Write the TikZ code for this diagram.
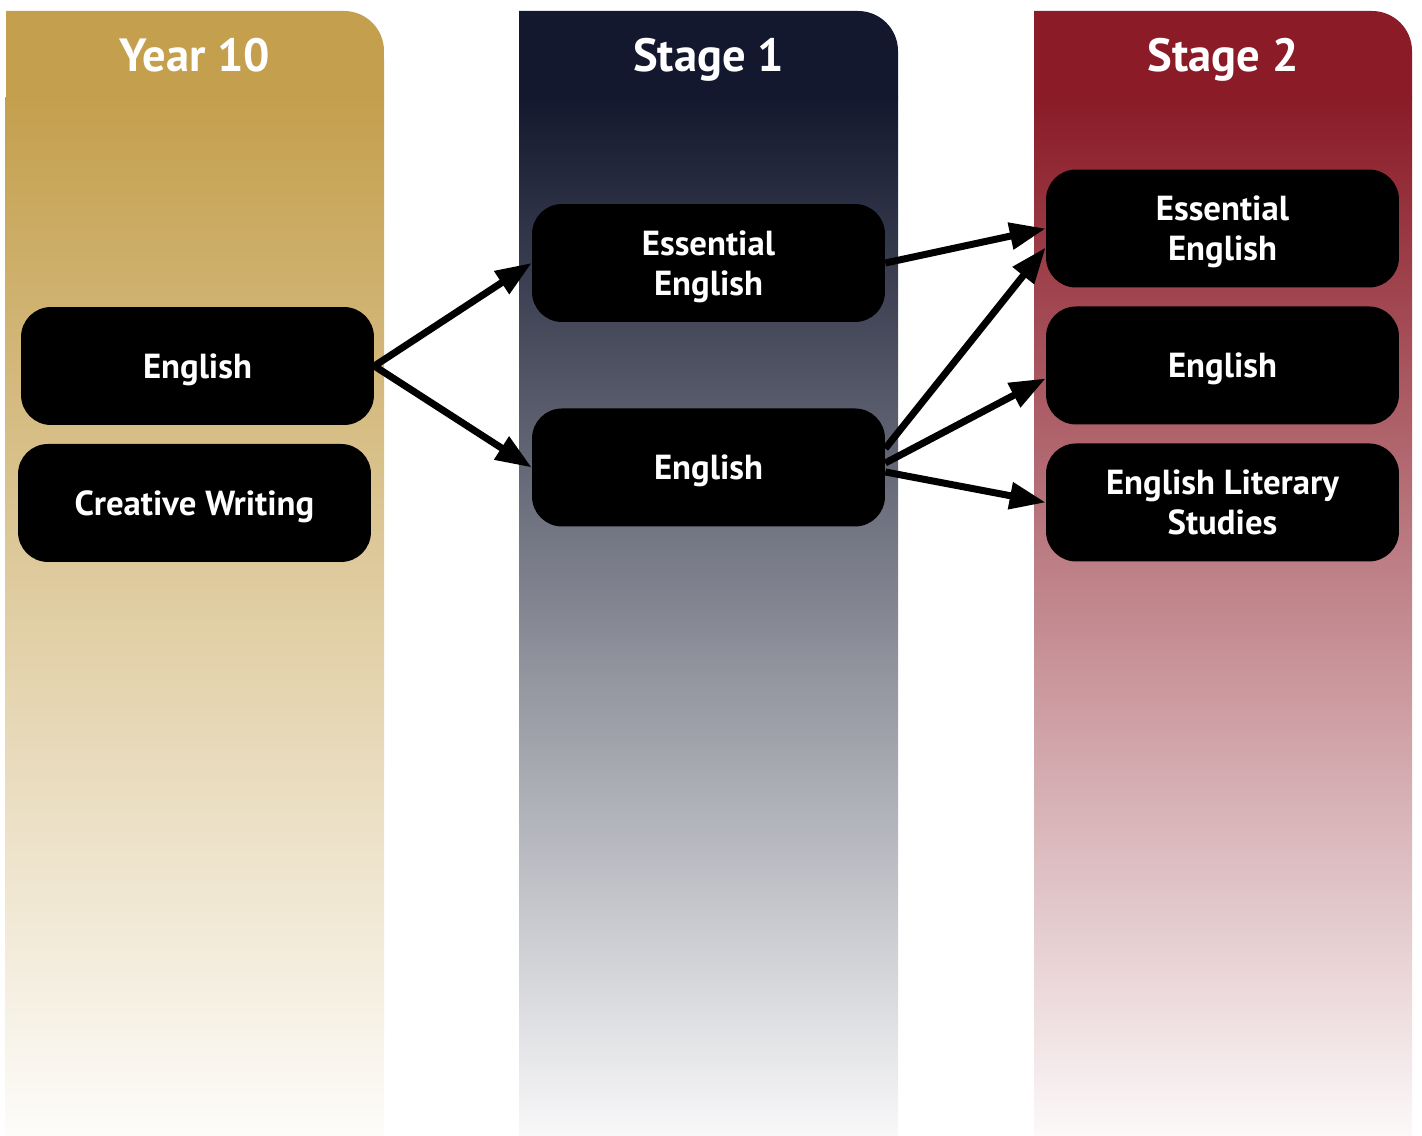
\documentclass[tikz,border=0pt]{standalone}
\usepackage{fontspec}
\setmainfont{PT Sans}
\usetikzlibrary{arrows.meta,positioning}
\definecolor{yeargold}{HTML}{C4A04E}
\definecolor{stagenavy}{HTML}{13182E}
\definecolor{stagered}{HTML}{8A1B27}

\begin{document}
\begin{tikzpicture}[
  x=0.02cm, y=-0.02cm,
  course/.style={rectangle, rounded corners=0.6cm, fill=black, text=white, minimum width=7.06cm, minimum height=2.36cm, text depth=0pt, font=\bfseries\fontsize{19.8}{22.8}\selectfont, align=center},
  heading/.style={text=white, anchor=base, font=\bfseries\fontsize{26.5}{30}\selectfont},
  link/.style={-{Triangle[length=0.72cm,width=0.52cm]}, line width=0.14cm},
  node distance=2.74cm
]
\useasboundingbox (0,0) rectangle (1422,1135);

% columns
\fill[yeargold] (6,98) -- (6,11) -- (344,11) arc[start angle=90, end angle=0, radius=0.8cm] -- (384,98) -- cycle;
\shade[top color=yeargold, bottom color=yeargold!3] (5,98) rectangle (384,1135);
\fill[stagenavy] (519,98) -- (519,11) -- (858,11) arc[start angle=90, end angle=0, radius=0.8cm] -- (898,98) -- cycle;
\shade[top color=stagenavy, bottom color=stagenavy!3] (519,98) rectangle (898,1135);
\fill[stagered] (1034,98) -- (1034,11) -- (1372,11) arc[start angle=90, end angle=0, radius=0.8cm] -- (1412,98) -- cycle;
\shade[top color=stagered, bottom color=stagered!3] (1034,98) rectangle (1412,1135);

\node[heading] (y10head) at (195,72) {Year 10};
\node[heading] (s1head) at (708.5,72) {Stage 1};
\node[heading] (s2head) at (1223,72) {Stage 2};

\node[course] (y10eng) at (197.5,366) {English};
\node[course, below of=y10eng, xshift=-0.06cm] (y10cw) {Creative Writing};
\node[course] (s1ess) at (708.5,263) {Essential\\English};
\node[course, below of=s1ess, node distance=4.09cm] (s1eng) {English};
\node[course] (s2ess) at (1222.5,228.5) {Essential\\English};
\node[course, below of=s2ess] (s2eng) {English};
\node[course, below of=s2eng] (s2els) {English Literary\\Studies};

\draw[link] (y10eng.east) -- (s1ess.west);
\draw[link] (y10eng.east) -- (s1eng.west);
\draw[link] (s1ess.east) -- (s2ess.west);
\draw[link] ([yshift=0.38cm]s1eng.east) -- ([yshift=-0.38cm]s2ess.west);
\draw[link] ([yshift=0.09cm]s1eng.east) -- ([yshift=-0.26cm]s2eng.west);
\draw[link] ([yshift=-0.09cm]s1eng.east) -- (s2els.west);
\end{tikzpicture}
\end{document}
